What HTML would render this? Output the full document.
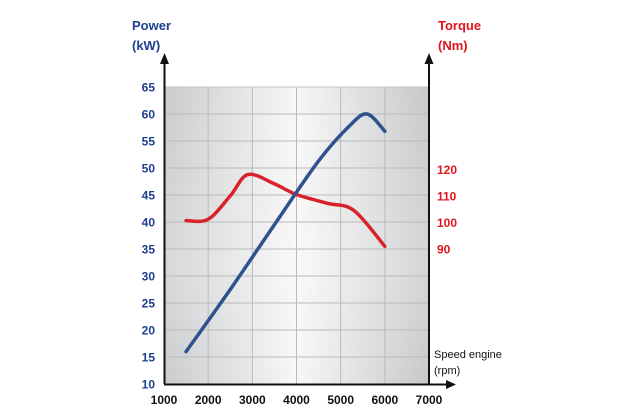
<!DOCTYPE html>
<html><head><meta charset="utf-8"><style>
body{margin:0;background:#fff;}
svg{display:block;font-family:"Liberation Sans",sans-serif;font-weight:bold;}
</style></head><body>
<svg id="chart" width="630" height="420" viewBox="0 0 630 420">
<defs>
<linearGradient id="bg" x1="0" x2="1" y1="0" y2="0">
<stop offset="0" stop-color="#c9cbcd"/><stop offset="0.5" stop-color="#f7f7f7"/><stop offset="1" stop-color="#c6c8ca"/>
</linearGradient>
<linearGradient id="bgv" x1="0" x2="0" y1="0" y2="1">
<stop offset="0" stop-color="#fff" stop-opacity="0"/><stop offset="0.6" stop-color="#fff" stop-opacity="0.25"/><stop offset="1" stop-color="#fff" stop-opacity="0"/>
</linearGradient>
</defs>
<rect x="164" y="87" width="265" height="297" fill="url(#bg)"/>
<rect x="164" y="87" width="265" height="297" fill="url(#bgv)"/>
<g id="grid"></g>
<g id="series"></g>
<g id="axes" stroke="#111" stroke-width="2" fill="#111">
<line x1="164.5" y1="384" x2="164.5" y2="62"/>
<polygon points="160,64 169,64 164.5,53" stroke="none"/>
<line x1="429" y1="384" x2="429" y2="62"/>
<polygon points="424.5,64 433.5,64 429,53" stroke="none"/>
<line x1="164" y1="384.5" x2="448" y2="384.5"/>
<polygon points="446,380 446,389 456,384.5" stroke="none"/>
</g>
<g id="labels"></g>
<text x="132" y="30" fill="#1d3f8f" font-size="13">Power</text>
<text x="132" y="50" fill="#1d3f8f" font-size="13">(kW)</text>
<text x="438" y="30" fill="#e0141c" font-size="13">Torque</text>
<text x="438" y="50" fill="#e0141c" font-size="13">(Nm)</text>
<text x="434" y="358" fill="#111" font-size="11" font-weight="normal">Speed engine</text>
<text x="434" y="374" fill="#111" font-size="11" font-weight="normal">(rpm)</text>
</svg>
<script>
const xTicks=[1000,2000,3000,4000,5000,6000,7000];
const powerTicks=[10,15,20,25,30,35,40,45,50,55,60,65];
const torqueTicks=[90,100,110,120];
const powerRpm=[1500,2500,3500,4500,5200,5600,6000];
const powerKw=[16,27.5,39.5,51.3,57.8,60,56.8];
const torqueRpm=[1500,2000,2500,2900,3500,4000,4700,5300,6000];
const torqueNm=[100.7,101.2,110,118,114.5,110.5,107.2,104.5,91];

const NS="http://www.w3.org/2000/svg";
const X=v=>164+(v-1000)*(429-164)/6000;
const YP=v=>384-(v-10)*(384-87)/55;
const YT=v=>249-(v-90)*(249-169.3)/30;
function mk(tag,attrs,parent){const e=document.createElementNS(NS,tag);for(const k in attrs)e.setAttribute(k,attrs[k]);parent.appendChild(e);return e;}
const grid=document.getElementById('grid'),labels=document.getElementById('labels'),series=document.getElementById('series');
xTicks.forEach(t=>{
  if(t>1000&&t<7000){const l=mk('line',{x1:X(t),x2:X(t),y1:87,y2:384,stroke:'#b8babd','stroke-width':1},grid);
  
  }
  const tx=mk('text',{x:X(t),y:404,'text-anchor':'middle','font-size':12,fill:'#111'},labels);tx.textContent=t;
  
  
});
powerTicks.forEach(t=>{
  if(t>10&&t<65){const l=mk('line',{x1:164,x2:429,y1:YP(t),y2:YP(t),stroke:'#b8babd','stroke-width':1},grid);
  
  }
  const tx=mk('text',{x:155,y:YP(t)+4.5,'text-anchor':'end','font-size':12,fill:'#1d3f8f'},labels);tx.textContent=t;
  
  
});
torqueTicks.forEach(t=>{
  const tx=mk('text',{x:437,y:YT(t)+4.5,'font-size':12,fill:'#e0141c'},labels);tx.textContent=t;
  
  
});
mk('rect',{x:164,y:87,width:265,height:297,fill:'none',stroke:'#c4c6c8'},grid);
function smooth(pts){let d='M'+pts[0][0]+','+pts[0][1];
  for(let i=0;i<pts.length-1;i++){const p0=pts[Math.max(0,i-1)],p1=pts[i],p2=pts[i+1],p3=pts[Math.min(pts.length-1,i+2)];
    d+=' C'+(p1[0]+(p2[0]-p0[0])/6)+','+(p1[1]+(p2[1]-p0[1])/6)+' '+(p2[0]-(p3[0]-p1[0])/6)+','+(p2[1]-(p3[1]-p1[1])/6)+' '+p2[0]+','+p2[1];}
  return d;}
const tp=mk('path',{d:smooth(torqueRpm.map((r,i)=>[X(r),YT(torqueNm[i])])),fill:'none',stroke:'#d7232a','stroke-width':3.5,'stroke-linecap':'round'},series);


const pp=mk('path',{d:smooth(powerRpm.map((r,i)=>[X(r),YP(powerKw[i])])),fill:'none',stroke:'#2f528f','stroke-width':3.5,'stroke-linecap':'round'},series);


</script>
</body></html>
